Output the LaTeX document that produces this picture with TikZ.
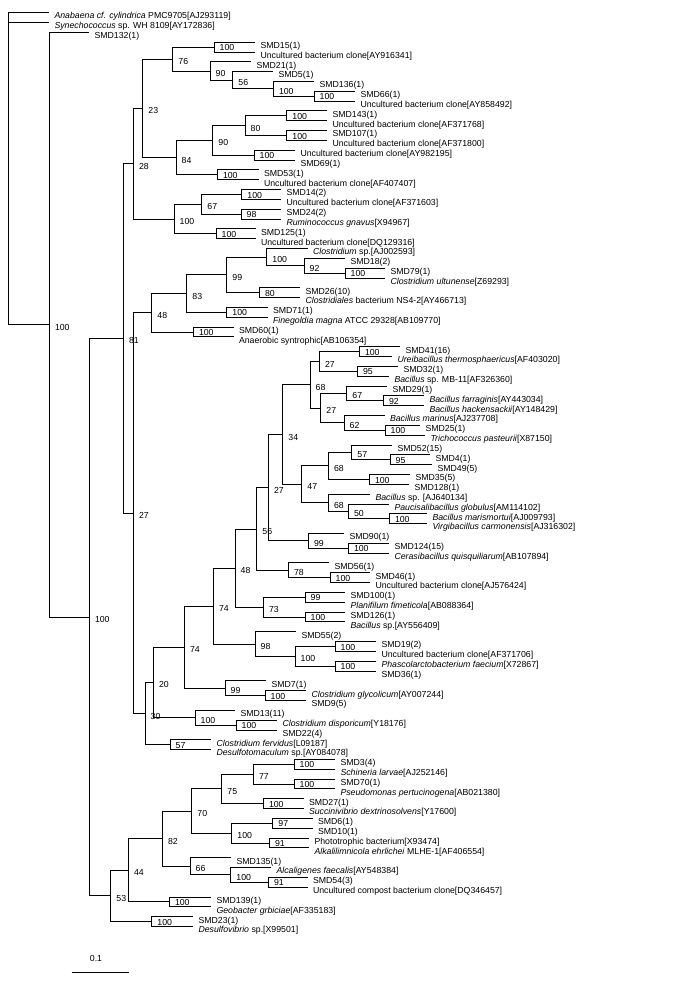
\documentclass[tikz,border=0pt]{standalone}
\usepackage{fontspec}
\setmainfont{Liberation Sans}
\usetikzlibrary{calc}
\tikzset{
  br/.style={line width=1pt},
  lab/.style={anchor=base west, inner sep=0pt, font=\fontsize{8.75}{10}\selectfont},
}
\newcommand{\lf}[4]{%
  \coordinate (#1) at (#3,{12.7+(#2-1)*9.826});
  \node[lab] (#1t) at (#3+5.3,{12.7+(#2-1)*9.826+6.3}) {#4};}
\newcommand{\nd}[5]{%
  \path let \p1=(#3), \p2=(#4) in coordinate (#1) at (#2pt,{0.5*(\y1+\y2)});
  \draw[br] (#1) |- (#3); \draw[br] (#1) |- (#4);
  \node[lab] (#1b) at ([xshift=5.5pt,yshift=-5.5pt]#1) {#5};}
\newcommand{\ndp}[5]{%
  \path let \p1=(#3), \p2=(#4) in coordinate (#1) at (#2pt,{0.5*(\y1+\y2)});
  \draw[br] (#1) |- (#3); \draw[br] (#1) |- (#4);
  \node[lab] (#1b) at ([xshift=5.5pt,yshift=-3.6pt]#1) {#5};}
\begin{document}
\begin{tikzpicture}[x=1pt,y=-1pt]
\useasboundingbox (0,0) rectangle (683,982);
% leaves
\lf{L1}{1}{49}{\textit{Anabaena cf. cylindrica} PMC9705[AJ293119]}
\lf{L2}{2}{49}{\textit{Synechococcus} sp. WH 8109[AY172836]}
\lf{L3}{3}{89}{SMD132(1)}
\lf{L4}{4}{255}{SMD15(1)}
\lf{L5}{5}{255}{Uncultured bacterium clone[AY916341]}
\lf{L6}{6}{251}{SMD21(1)}
\lf{L7}{7}{273}{SMD5(1)}
\lf{L8}{8}{314}{SMD136(1)}
\lf{L9}{9}{355}{SMD66(1)}
\lf{L10}{10}{355}{Uncultured bacterium clone[AY858492]}
\lf{L11}{11}{327}{SMD143(1)}
\lf{L12}{12}{327}{Uncultured bacterium clone[AF371768]}
\lf{L13}{13}{327}{SMD107(1)}
\lf{L14}{14}{327}{Uncultured bacterium clone[AF371800]}
\lf{L15}{15}{295}{Uncultured bacterium clone[AY982195]}
\lf{L16}{16}{295}{SMD69(1)}
\lf{L17}{17}{258.5}{SMD53(1)}
\lf{L18}{18}{258.5}{Uncultured bacterium clone[AF407407]}
\lf{L19}{19}{281}{SMD14(2)}
\lf{L20}{20}{281}{Uncultured bacterium clone[AF371603]}
\lf{L21}{21}{281}{SMD24(2)}
\lf{L22}{22}{281}{\textit{Ruminococcus gnavus}[X94967]}
\lf{L23}{23}{255.5}{SMD125(1)}
\lf{L24}{24}{255.5}{Uncultured bacterium clone[DQ129316]}
\lf{L25}{25}{307.5}{\textit{Clostridium} sp.[AJ002593]}
\lf{L26}{26}{345}{SMD18(2)}
\lf{L27}{27}{385}{SMD79(1)}
\lf{L28}{28}{385}{\textit{Clostridium ultunense}[Z69293]}
\lf{L29}{29}{300}{SMD26(10)}
\lf{L30}{30}{300}{\textit{Clostridiales} bacterium NS4-2[AY466713]}
\lf{L31}{31}{267.5}{SMD71(1)}
\lf{L32}{32}{267.5}{\textit{Finegoldia magna} ATCC 29328[AB109770]}
\lf{L33}{33}{233.5}{SMD60(1)}
\lf{L34}{34}{233.5}{Anaerobic syntrophic[AB106354]}
\lf{L35}{35}{400}{SMD41(16)}
\lf{L36}{36}{392}{\textit{Ureibacillus thermosphaericus}[AF403020]}
\lf{L37}{37}{398}{SMD32(1)}
\lf{L38}{38}{389}{\textit{Bacillus} sp. MB-11[AF326360]}
\lf{L39}{39}{387}{SMD29(1)}
\lf{L40}{40}{424}{\textit{Bacillus farraginis}[AY443034]}
\lf{L41}{41}{424}{\textit{Bacillus hackensackii}[AY148429]}
\lf{L42}{42}{384.5}{\textit{Bacillus marinus}[AJ237708]}
\lf{L43}{43}{420}{SMD25(1)}
\lf{L44}{44}{425}{\textit{Trichococcus pasteurii}[X87150]}
\lf{L45}{45}{392}{SMD52(15)}
\lf{L46}{46}{430}{SMD4(1)}
\lf{L47}{47}{432}{SMD49(5)}
\lf{L48}{48}{410}{SMD35(5)}
\lf{L49}{49}{409}{SMD128(1)}
\lf{L50}{50}{370}{\textit{Bacillus} sp. [AJ640134]}
\lf{L51}{51}{389}{\textit{Paucisalibacillus globulus}[AM114102]}
\lf{L52}{52}{427}{\textit{Bacillus marismortui}[AJ009793]}
\lf{L53}{53}{427}{\textit{Virgibacillus carmonensis}[AJ316302]}
\lf{L54}{54}{344}{SMD90(1)}
\lf{L55}{55}{389}{SMD124(15)}
\lf{L56}{56}{389}{\textit{Cerasibacillus quisquiliarum}[AB107894]}
\lf{L57}{57}{329}{SMD56(1)}
\lf{L58}{58}{370}{SMD46(1)}
\lf{L59}{59}{370}{Uncultured bacterium clone[AJ576424]}
\lf{L60}{60}{345}{SMD100(1)}
\lf{L61}{61}{345}{\textit{Planifilum fimeticola}[AB088364]}
\lf{L62}{62}{345}{SMD126(1)}
\lf{L63}{63}{345}{\textit{Bacillus} sp.[AY556409]}
\lf{L64}{64}{296}{SMD55(2)}
\lf{L65}{65}{376}{SMD19(2)}
\lf{L66}{66}{376}{Uncultured bacterium clone[AF371706]}
\lf{L67}{67}{376}{\textit{Phascolarctobacterium faecium}[X72867]}
\lf{L68}{68}{376}{SMD36(1)}
\lf{L69}{69}{266}{SMD7(1)}
\lf{L70}{70}{306}{\textit{Clostridium glycolicum}[AY007244]}
\lf{L71}{71}{306}{SMD9(5)}
\lf{L72}{72}{235}{SMD13(11)}
\lf{L73}{73}{277}{\textit{Clostridium disporicum}[Y18176]}
\lf{L74}{74}{277}{SMD22(4)}
\lf{L75}{75}{211}{\textit{Clostridium fervidus}[L09187]}
\lf{L76}{76}{211}{\textit{Desulfotomaculum} sp.[AY084078]}
\lf{L77}{77}{335}{SMD3(4)}
\lf{L78}{78}{335}{\textit{Schineria larvae}[AJ252146]}
\lf{L79}{79}{335}{SMD70(1)}
\lf{L80}{80}{335}{\textit{Pseudomonas pertucinogena}[AB021380]}
\lf{L81}{81}{303.5}{SMD27(1)}
\lf{L82}{82}{303.5}{\textit{Succinivibrio dextrinosolvens}[Y17600]}
\lf{L83}{83}{312.5}{SMD6(1)}
\lf{L84}{84}{312.5}{SMD10(1)}
\lf{L85}{85}{309}{Phototrophic bacterium[X93474]}
\lf{L86}{86}{309}{\textit{Alkalilimnicola ehrlichei} MLHE-1[AF406554]}
\lf{L87}{87}{231}{SMD135(1)}
\lf{L88}{88}{271}{\textit{Alcaligenes faecalis}[AY548384]}
\lf{L89}{89}{307.5}{SMD54(3)}
\lf{L90}{90}{307.5}{Uncultured compost bacterium clone[DQ346457]}
\lf{L91}{91}{211}{SMD139(1)}
\lf{L92}{92}{211}{\textit{Geobacter grbiciae}[AF335183]}
\lf{L93}{93}{193}{SMD23(1)}
\lf{L94}{94}{193}{\textit{Desulfovibrio} sp.[X99501]}
% upper clade
\ndp{J}{214}{L4}{L5}{100}
\ndp{N}{314}{L9}{L10}{100}
\nd{M}{273.3}{L8}{N}{100}
\nd{Lq}{232.7}{L7}{M}{56}
\nd{K}{210}{L6}{Lq}{90}
\nd{H}{172.7}{J}{K}{76}
\ndp{S}{286.7}{L11}{L12}{100}
\ndp{T}{286.7}{L13}{L14}{100}
\nd{Q}{245}{S}{T}{80}
\ndp{R}{254}{L15}{L16}{100}
\nd{O}{212.7}{Q}{R}{90}
\ndp{Pp}{217.3}{L17}{L18}{100}
\nd{I}{176}{O}{Pp}{84}
\nd{F}{142.7}{H}{I}{23}
\ndp{W}{241.7}{L19}{L20}{100}
\ndp{X}{241}{L21}{L22}{98}
\nd{U}{201.7}{W}{X}{67}
\ndp{V}{216}{L23}{L24}{100}
\nd{G}{174}{U}{V}{100}
\nd{D}{133.3}{F}{G}{28}
\ndp{AN}{345}{L27}{L28}{100}
\nd{AM}{304}{L26}{AN}{92}
\nd{AK}{266.7}{L25}{AM}{100}
\ndp{AL}{259.3}{L29}{L30}{80}
\nd{AI}{226.7}{AK}{AL}{99}
\ndp{AJ}{226.7}{L31}{L32}{100}
\nd{AG}{186.7}{AI}{AJ}{83}
\ndp{AH}{193.3}{L33}{L34}{100}
\nd{Y}{151.7}{AG}{AH}{48}
% Bacillus group
\ndp{b1}{359.3}{L35}{L36}{100}
\ndp{b2}{357.3}{L37}{L38}{95}
\nd{b3}{319.3}{b1}{b2}{27}
\ndp{b4}{383.3}{L40}{L41}{92}
\nd{b5}{346.7}{L39}{b4}{67}
\ndp{b6}{385}{L43}{L44}{100}
\nd{b7}{344}{L42}{b6}{62}
\nd{b8}{320.7}{b5}{b7}{27}
\nd{b9}{310}{b3}{b8}{68}
\ndp{b10}{390}{L46}{L47}{95}
\nd{b11}{351.7}{L45}{b10}{57}
\ndp{b12}{369.3}{L48}{L49}{100}
\nd{b13}{328.3}{b11}{b12}{68}
\ndp{b14}{389.3}{L52}{L53}{100}
\nd{b15}{348.3}{L51}{b14}{50}
\nd{b16}{328.3}{L50}{b15}{68}
\nd{b17}{301.7}{b13}{b16}{47}
\nd{b18}{282.7}{b9}{b17}{34}
\ndp{b19}{348.3}{L55}{L56}{100}
\nd{b20}{308.3}{L54}{b19}{99}
\nd{b21}{268.3}{b18}{b20}{27}
\ndp{b22}{330}{L58}{L59}{100}
\nd{b23}{288.3}{L57}{b22}{78}
\nd{b24}{256.7}{b21}{b23}{56}
\ndp{b25}{305}{L60}{L61}{99}
\ndp{b26}{305}{L62}{L63}{100}
\nd{b27}{263.3}{b25}{b26}{73}
\nd{AO}{235}{b24}{b27}{48}
\ndp{c1}{335}{L65}{L66}{100}
\ndp{c2}{335}{L67}{L68}{100}
\nd{c3}{295}{c1}{c2}{100}
\nd{AP}{255}{L64}{c3}{98}
\nd{AF}{213.3}{AO}{AP}{74}
\ndp{c4}{265}{L70}{L71}{100}
\nd{c5}{225}{L69}{c4}{99}
\nd{AE}{184.3}{AF}{c5}{74}
\ndp{AD}{236}{L73}{L74}{100}
\nd{AC}{195}{L72}{AD}{100}
\nd{AA}{153.3}{AE}{AC}{20}
\ndp{AB}{170}{L75}{L76}{57}
\nd{Z}{145}{AA}{AB}{30}
\nd{E}{133.3}{Y}{Z}{27}
\nd{C}{123.3}{D}{E}{81}
% Proteobacteria
\ndp{p1}{294}{L77}{L78}{100}
\ndp{p2}{294}{L79}{L80}{100}
\nd{p3}{253.3}{p1}{p2}{77}
\ndp{p4}{263.3}{L81}{L82}{100}
\nd{p5}{221.7}{p3}{p4}{75}
\ndp{p6}{272.7}{L83}{L84}{97}
\ndp{p7}{269.3}{L85}{L86}{91}
\nd{p8}{231.7}{p6}{p7}{100}
\nd{p9}{191.7}{p5}{p8}{70}
\ndp{p10}{268.3}{L89}{L90}{91}
\nd{p11}{230.7}{L88}{p10}{100}
\nd{p12}{190}{L87}{p11}{66}
\nd{p13}{162.3}{p9}{p12}{82}
\ndp{p14}{169.3}{L91}{L92}{100}
\nd{p15}{128.3}{p13}{p14}{44}
\ndp{p16}{151.7}{L93}{L94}{100}
\nd{P}{110.7}{p15}{p16}{53}
\nd{B}{89.3}{C}{P}{100}
\nd{A}{49.3}{L3}{B}{100}
% root
\path let \p1=(L1) in coordinate (R) at (8pt,\y1);
\draw[br] (R) |- (L1);
\draw[br] (R) |- (L2);
\draw[br] (R) |- (A);
% scale bar
\coordinate (s1) at (71.7,972.7);
\coordinate (s2) at (129.3,972.7);
\draw[br] (s1) -- (s2);
\node[lab, anchor=base] (sbl) at (96,961.5) {0.1};
\end{tikzpicture}
\end{document}
